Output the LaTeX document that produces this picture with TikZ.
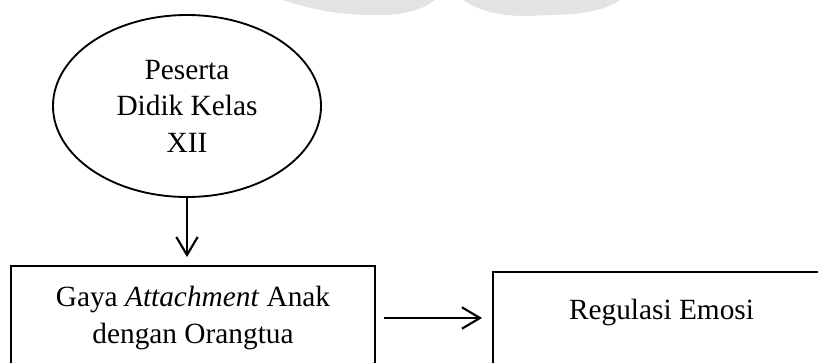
\documentclass[tikz,border=0pt]{standalone}
\usepackage{fontspec}
\setmainfont{Liberation Serif}
\usetikzlibrary{shapes.geometric, arrows.meta}

\begin{document}
\begin{tikzpicture}[%
        x = 1pt, y = 1pt,
        font = \fontsize{22}{27.4}\selectfont,
        kotak/.style = {%
            draw,
            line width = 1.4pt,
            inner sep = 0pt,
            align = center
        },
        panah/.style = {%
            -{Straight Barb[length = 13.5pt, width = 16pt, line width = 1.6pt]},
            line width = 1.6pt
        }
    ]

        % The page, with the boxes running off its lower edge.
        \clip (0, 0) rectangle (613.5, 271.5);

        % Faint watermark at the top edge.
        \fill[gray!22] (212.25, 271.5) .. controls (240, 262) and (260, 260.25) .. (285, 260.25)
            .. controls (305, 260.25) and (318, 265) .. (326.25, 271.5) -- cycle;
        \fill[gray!22] (347.25, 271.5) .. controls (360, 263) and (375, 259.5) .. (395, 259.5)
            -- (430, 261) .. controls (450, 263) and (460, 268) .. (465, 271.5) -- cycle;

        % The group of pupils.
        \node[kotak, ellipse, minimum width = 201pt, minimum height = 136.5pt]
            (peserta) at (140.25, 192) {Peserta\\ Didik Kelas\\ XII};

        % The two variables.
        \node[kotak, minimum width = 273pt, minimum height = 78pt]
            (attachment) at (144.75, 33) {Gaya \textit{Attachment} Anak\\ dengan Orangtua};
        \node[kotak, minimum width = 252.75pt, text height = 35.8pt, text depth = 60pt, anchor = base]
            (regulasi) at (496.125, 31.7) {Regulasi Emosi};

        % Arrows between them.
        \draw[panah, shorten > = 6pt] (peserta.south) to (peserta.south |- attachment.north);
        \draw[panah, shorten < = 6pt, shorten > = 7.5pt] (attachment.east) to (attachment.east -| regulasi.west);
    \end{tikzpicture}
\end{document}
